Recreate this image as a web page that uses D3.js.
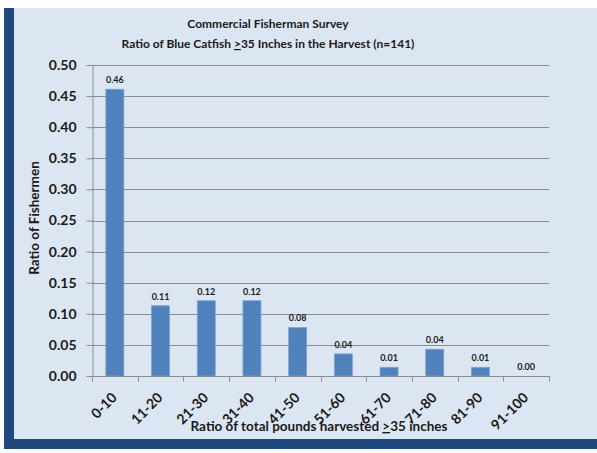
<!DOCTYPE html>
<html>
<head>
<meta charset="utf-8">
<script src="https://cdn.jsdelivr.net/npm/d3@7"></script>
<style>
  body { margin: 0; background: #fff; }
  text { font-family: Lato, "Open Sans", sans-serif; font-weight: bold; fill: #1a1a1a; }
</style>
</head>
<body>
<div id="chart"></div>
<script>
// survey data
var categories = ["0-10", "11-20", "21-30", "31-40", "41-50", "51-60", "61-70", "71-80", "81-90", "91-100"];
var ratios = [0.461, 0.113, 0.121, 0.121, 0.078, 0.0355, 0.014, 0.043, 0.014, 0.0];
var yTicks = [0, 0.05, 0.10, 0.15, 0.20, 0.25, 0.30, 0.35, 0.40, 0.45, 0.50];

var W = 597, H = 453;
var svg = d3.select("#chart").append("svg").attr("width", W).attr("height", H);

// frame: dark blue border on left/bottom, light panel
svg.append("rect").attr("x", 4).attr("y", 8).attr("width", W - 4).attr("height", 441).attr("fill", "#1f497d");
svg.append("rect").attr("x", 14).attr("y", 8).attr("width", W - 14).attr("height", 431).attr("fill", "#dce6f2");

var plotLeft = 92, plotRight = 549, plotTop = 65, plotBottom = 376;

var xb = d3.scaleBand().domain(categories).range([plotLeft, plotRight]);
var y = d3.scaleLinear().domain([0, 0.5]).range([plotBottom, plotTop]);

// gridlines
svg.append("g").selectAll("line")
    .data(yTicks.slice(1))
    .enter().append("line")
    .attr("x1", plotLeft).attr("x2", plotRight)
    .attr("y1", function (d) { return Math.round(y(d)) + 0.5; })
    .attr("y2", function (d) { return Math.round(y(d)) + 0.5; })
    .attr("stroke", "#8c8c8c").attr("stroke-width", 1);

// bars
svg.append("g").selectAll("rect")
    .data(ratios)
    .enter().append("rect")
    .attr("x", function (d, i) { return xb(categories[i]) + (xb.bandwidth() - 18) / 2; })
    .attr("width", 18)
    .attr("y", function (d) { return y(d); })
    .attr("height", function (d) { return plotBottom - y(d); })
    .attr("fill", "#4f81bd")
    .attr("stroke", "#7fa3d3").attr("stroke-width", 0.8);

// value labels
svg.append("g").selectAll("text")
    .data(ratios)
    .enter().append("text")
    .attr("x", function (d, i) { return xb(categories[i]) + xb.bandwidth() / 2; })
    .attr("y", function (d) { return y(d) - 6; })
    .attr("text-anchor", "middle")
    .style("font-size", "9px")
    .text(function (d) { return d3.format(".2f")(d); });

// y axis
var yAxis = d3.axisLeft(y).tickValues(yTicks).tickFormat(d3.format(".2f")).tickSizeInner(6).tickSizeOuter(0).tickPadding(10);
var gy = svg.append("g").attr("transform", "translate(" + (plotLeft + 0.5) + ",0)").call(yAxis);
gy.selectAll("path, line").attr("stroke", "#8c8c8c");
gy.selectAll("text").style("font-size", "14px").style("font-family", "Lato, sans-serif").style("font-weight", "bold").attr("fill", "#1a1a1a");

// x axis: ticks at band boundaries
var gx = svg.append("g").attr("transform", "translate(0," + (plotBottom + 0.5) + ")");
gx.append("line").attr("x1", plotLeft).attr("x2", plotRight + 1).attr("stroke", "#8c8c8c");
gx.selectAll(".tk")
    .data(categories.concat(["end"]))
    .enter().append("line")
    .attr("class", "tk")
    .attr("x1", function (d, i) { return Math.round(plotLeft + i * xb.bandwidth()) + 0.5; })
    .attr("x2", function (d, i) { return Math.round(plotLeft + i * xb.bandwidth()) + 0.5; })
    .attr("y1", 0).attr("y2", 5)
    .attr("stroke", "#8c8c8c");
gx.selectAll(".lbl")
    .data(categories)
    .enter().append("text")
    .attr("class", "lbl")
    .attr("text-anchor", "end")
    .style("font-size", "14px")
    .attr("transform", function (d) {
        return "translate(" + (xb(d) + xb.bandwidth() / 2 + 3) + ",22) rotate(-45)";
    })
    .text(function (d) { return d; });

// titles
svg.append("text").attr("x", 268).attr("y", 28).attr("text-anchor", "middle")
    .style("font-size", "12px").text("Commercial Fisherman Survey");
var t2 = svg.append("text").attr("x", 268).attr("y", 48).attr("text-anchor", "middle").style("font-size", "12px");
t2.append("tspan").text("Ratio of Blue Catfish ");
t2.append("tspan").style("text-decoration", "underline").text(">");
t2.append("tspan").text("35 Inches in the Harvest (n=141)");

var xt = svg.append("text").attr("x", 319).attr("y", 431).attr("text-anchor", "middle").style("font-size", "13.5px");
xt.append("tspan").text("Ratio of total pounds harvested ");
xt.append("tspan").style("text-decoration", "underline").text(">");
xt.append("tspan").text("35 inches");

svg.append("text").attr("text-anchor", "middle")
    .attr("transform", "translate(39,218) rotate(-90)")
    .style("font-size", "13.5px").text("Ratio of Fishermen");
</script>
</body>
</html>
